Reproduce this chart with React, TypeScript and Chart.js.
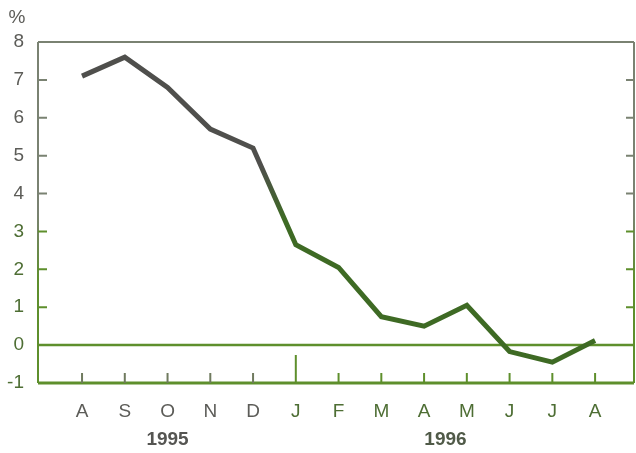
import React, { useEffect, useRef } from "react";
import { Chart, registerables } from "chart.js";

Chart.register(...registerables);

const months = ["A", "S", "O", "N", "D", "J", "F", "M", "A", "M", "J", "J", "A"];
const values = [7.1, 7.6, 6.8, 5.7, 5.2, 2.65, 2.05, 0.75, 0.5, 1.05, -0.17, -0.45, 0.12];
const yTicks = [-1, 0, 1, 2, 3, 4, 5, 6, 7, 8];
const years = ["1995", "1996"];
const yearCenters = [2, 8.5];
const yearStartIndex = 5;

const FONT = "'Liberation Sans', Arial, Helvetica, sans-serif";
const GRAY = "#5c5c58";
const GREEN_TEXT = "#4e6e34";
const FRAME_GRAY = "#7a8272";
const FRAME_GREEN = "#5e8f2c";

const framePlugin = {
  id: "frame",
  beforeDatasetsDraw(chart: any) {
    const { ctx, chartArea, scales } = chart;
    const { left, right, top, bottom } = chartArea;
    const x = scales.x;
    const y = scales.y;
    ctx.save();
    ctx.lineCap = "butt";
    ctx.strokeStyle = FRAME_GRAY;
    ctx.lineWidth = 2;
    ctx.beginPath();
    ctx.moveTo(left, top);
    ctx.lineTo(right, top);
    ctx.stroke();
    const g = ctx.createLinearGradient(0, top, 0, bottom);
    g.addColorStop(0, FRAME_GRAY);
    g.addColorStop(0.5, FRAME_GRAY);
    g.addColorStop(0.7, FRAME_GREEN);
    g.addColorStop(1, FRAME_GREEN);
    ctx.strokeStyle = g;
    ctx.beginPath();
    ctx.moveTo(left, top);
    ctx.lineTo(left, bottom);
    ctx.moveTo(right, top);
    ctx.lineTo(right, bottom);
    ctx.stroke();
    yTicks.forEach((v) => {
      if (v <= 0 || v >= 8) return;
      const py = y.getPixelForValue(v);
      ctx.strokeStyle = v >= 4 ? FRAME_GRAY : FRAME_GREEN;
      ctx.lineWidth = 2;
      ctx.beginPath();
      ctx.moveTo(left, py);
      ctx.lineTo(left + 9, py);
      ctx.moveTo(right, py);
      ctx.lineTo(right - 8, py);
      ctx.stroke();
    });
    const y0 = y.getPixelForValue(0);
    ctx.strokeStyle = FRAME_GREEN;
    ctx.lineWidth = 2.5;
    ctx.beginPath();
    ctx.moveTo(left, y0);
    ctx.lineTo(right, y0);
    ctx.stroke();
    ctx.lineWidth = 3;
    ctx.beginPath();
    ctx.moveTo(left, bottom);
    ctx.lineTo(right, bottom);
    ctx.stroke();
    ctx.lineWidth = 2;
    months.forEach((_, i) => {
      const px = x.getPixelForValue(i);
      ctx.strokeStyle = i < yearStartIndex ? "#6f7a5e" : FRAME_GREEN;
      ctx.beginPath();
      ctx.moveTo(px, bottom);
      ctx.lineTo(px, bottom - (i === yearStartIndex ? 28 : 10));
      ctx.stroke();
    });
    ctx.restore();
  },
  afterDraw(chart: any) {
    const { ctx, chartArea, scales } = chart;
    ctx.save();
    ctx.fillStyle = GRAY;
    ctx.font = `19px ${FONT}`;
    ctx.textAlign = "center";
    ctx.textBaseline = "middle";
    ctx.fillText("%", 17, 18);
    ctx.font = `bold 19px ${FONT}`;
    years.forEach((t, i) => {
      ctx.fillStyle = i === 0 ? "#555552" : "#505a48";
      ctx.fillText(t, scales.x.getPixelForValue(yearCenters[i]), chartArea.bottom + 57);
    });
    ctx.restore();
  },
};

export default function App() {
  const ref = useRef<HTMLCanvasElement | null>(null);
  useEffect(() => {
    document.body.style.margin = "0";
    const canvas = ref.current!;
    const chart = new Chart(canvas, {
      type: "line",
      data: {
        datasets: [
          {
            data: values.map((v, i) => ({ x: i, y: v })),
            borderWidth: 5,
            pointRadius: 0,
            tension: 0,
            borderJoinStyle: "miter",
            borderColor: (c: any) => {
              const area = c.chart.chartArea;
              if (!area) return "#4f4f4c";
              const g = c.chart.ctx.createLinearGradient(0, area.top, 0, area.bottom);
              g.addColorStop(0, "#4f4f4c");
              g.addColorStop(0.36, "#4f4f4c");
              g.addColorStop(0.52, "#3e6a24");
              g.addColorStop(1, "#3e6a24");
              return g;
            },
          },
        ],
      },
      options: {
        animation: false,
        responsive: false,
        layout: { padding: { top: 42, right: 2, left: 0, bottom: 0 } },
        plugins: { legend: { display: false }, tooltip: { enabled: false } },
        scales: {
          x: {
            type: "linear",
            min: -1.03,
            max: 12.91,
            afterBuildTicks: (s: any) => {
              s.ticks = months.map((_, i) => ({ value: i }));
            },
            afterFit: (s: any) => {
              s.height = 70;
            },
            grid: { display: false, drawTicks: false },
            border: { display: false },
            ticks: {
              autoSkip: false,
              maxRotation: 0,
              padding: 17,
              font: { family: FONT, size: 19 },
              color: (c: any) => (c.tick && c.tick.value < yearStartIndex ? GRAY : GREEN_TEXT),
              callback: (v: any) => months[v as number] ?? "",
            },
          },
          y: {
            type: "linear",
            min: -1,
            max: 8,
            afterBuildTicks: (s: any) => {
              s.ticks = yTicks.map((v) => ({ value: v }));
            },
            afterFit: (s: any) => {
              s.width = 38;
            },
            grid: { display: false, drawTicks: false },
            border: { display: false },
            ticks: {
              padding: 14,
              font: { family: FONT, size: 19 },
              color: (c: any) => (c.tick && c.tick.value >= 4 ? GRAY : GREEN_TEXT),
              callback: (v: any) => String(v),
            },
          },
        },
      },
      plugins: [framePlugin],
    } as any);
    return () => chart.destroy();
  }, []);
  return (
    <div style={{ position: "fixed", left: 0, top: 0, width: 636, height: 453, background: "#fff" }}>
      <canvas ref={ref} width={636} height={453} />
    </div>
  );
}
